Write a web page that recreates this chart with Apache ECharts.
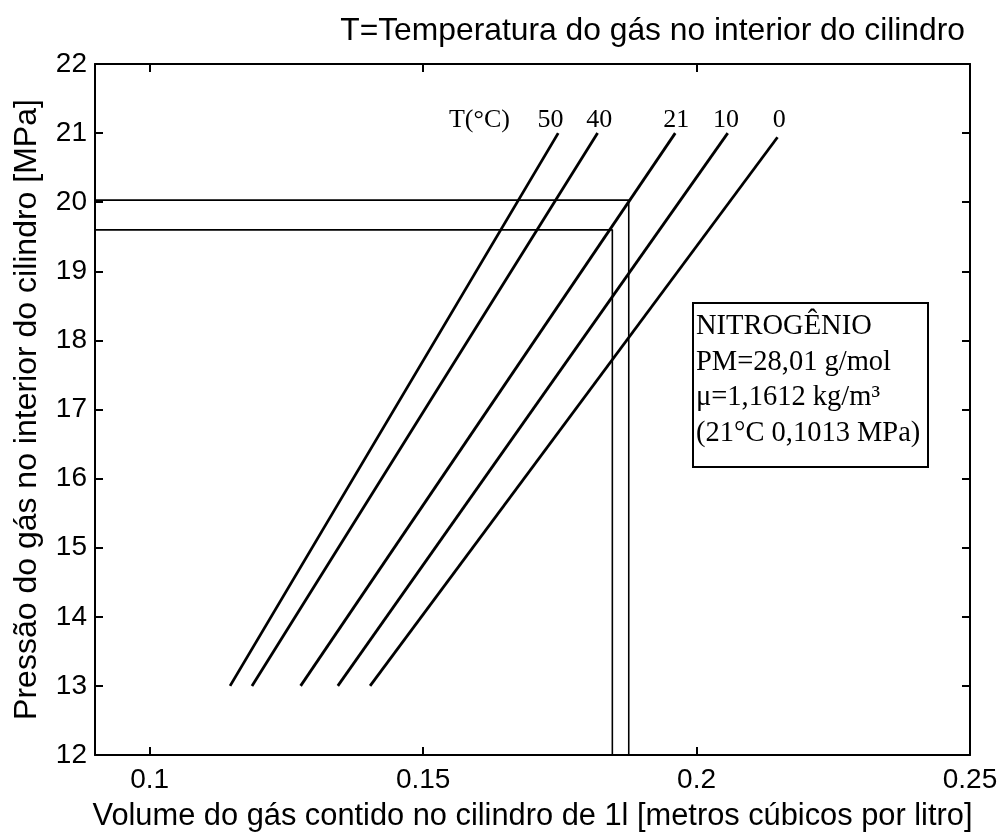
<!DOCTYPE html>
<html>
<head>
<meta charset="utf-8">
<script src="https://cdn.jsdelivr.net/npm/echarts@6/dist/echarts.min.js"></script>
<style>html,body{margin:0;padding:0;background:#fff}#c{width:1004px;height:837px}</style>
</head>
<body>
<div id="c"></div>
<script>
// Temperatures (°C) and isotherm endpoints [volume, pressure]
const temps = ['50', '40', '21', '10', '0'];
const lineStart = [[0.1147, 13], [0.1187, 13], [0.1276, 13], [0.1344, 13], [0.1403, 13]];
const lineEnd = [[0.1747, 21], [0.1819, 21], [0.1961, 21], [0.2057, 21], [0.2148, 20.94]];
// Reference reading lines [pressure, volume]
const refHigh = [20.03, 0.1876];
const refLow = [19.60, 0.1846];
const xTicks = [0.1, 0.15, 0.2, 0.25];
const boxLines = ['NITROGÊNIO', 'PM=28,01 g/mol', 'μ=1,1612 kg/m³', '(21°C 0,1013 MPa)'];

const chart = echarts.init(document.getElementById('c'));
const sans = 'Liberation Sans';
const serif = 'Liberation Serif';

const series = temps.map((t, i) => ({
  type: 'line', name: t, data: [lineStart[i], lineEnd[i]],
  symbol: 'none', lineStyle: { color: '#000', width: 2.8 }, silent: true, z: 3
}));
[refHigh, refLow].forEach(r => {
  series.push({
    type: 'line', data: [[0.09, r[0]], [r[1], r[0]], [r[1], 12]],
    symbol: 'none', lineStyle: { color: '#000', width: 1.6 }, silent: true, z: 2
  });
});

const axisLine = { show: true, onZero: false, lineStyle: { color: '#000', width: 2 } };
const tick = { inside: true, length: 8, lineStyle: { color: '#000', width: 2 } };

chart.setOption({
  animation: false,
  backgroundColor: '#fff',
  grid: { left: 95, right: 34, top: 64, bottom: 82, containLabel: false, outerBoundsMode: 'none' },
  xAxis: [
    {
      type: 'value', min: 0.09, max: 0.25, position: 'bottom',
      name: 'Volume do gás contido no cilindro de 1l [metros cúbicos por litro]',
      nameLocation: 'middle', nameGap: 46,
      nameTextStyle: { fontFamily: sans, fontSize: 30.8, color: '#000' },
      axisLine: axisLine, splitLine: { show: false },
      axisTick: Object.assign({ customValues: xTicks }, tick),
      axisLabel: { customValues: xTicks, margin: 11, fontFamily: sans, fontSize: 28, color: '#000',
        formatter: v => String(v) }
    },
    {
      type: 'value', min: 0.09, max: 0.25, position: 'top',
      axisLine: axisLine, splitLine: { show: false },
      axisTick: Object.assign({ customValues: xTicks }, tick),
      axisLabel: { show: false }
    }
  ],
  yAxis: [
    {
      type: 'value', min: 12, max: 22, interval: 1, position: 'left',
      name: 'Pressão do gás no interior do cilindro [MPa]',
      nameLocation: 'middle', nameGap: 52,
      nameTextStyle: { fontFamily: sans, fontSize: 32, color: '#000' },
      axisLine: axisLine, splitLine: { show: false }, axisTick: tick,
      axisLabel: { margin: 8, fontFamily: sans, fontSize: 28, color: '#000' }
    },
    {
      type: 'value', min: 12, max: 22, interval: 1, position: 'right',
      axisLine: axisLine, splitLine: { show: false }, axisTick: tick,
      axisLabel: { show: false }
    }
  ],
  series: series
});

// annotations
const g = [];
g.push({ type: 'text', right: 39, top: 15,
  style: { text: 'T=Temperatura do gás no interior do cilindro', fontFamily: sans, fontSize: 31.8, fill: '#000' } });
const tLabelX = [0.1733, 0.1822, 0.1963, 0.2054, 0.2151];
temps.forEach((t, i) => {
  const p = chart.convertToPixel({ xAxisIndex: 0, yAxisIndex: 0 }, [tLabelX[i], 21]);
  g.push({ type: 'text', x: p[0], y: p[1] - 13,
    style: { text: t, fontFamily: serif, fontSize: 26, fill: '#000', align: 'center', verticalAlign: 'middle' } });
});
const pT = chart.convertToPixel({ xAxisIndex: 0, yAxisIndex: 0 }, [0.1603, 21]);
g.push({ type: 'text', x: pT[0], y: pT[1] - 13,
  style: { text: 'T(°C)', fontFamily: serif, fontSize: 26, fill: '#000', align: 'center', verticalAlign: 'middle' } });

g.push({ type: 'rect', shape: { x: 693, y: 303, width: 235, height: 164 },
  style: { fill: '#fff', stroke: '#000', lineWidth: 2 }, z: 10 });
boxLines.forEach((s, i) => {
  g.push({ type: 'text', x: 696, y: 327 + i * 35.5, z: 11,
    style: { text: s, fontFamily: serif, fontSize: 28.5, fill: '#000', verticalAlign: 'middle' } });
});
chart.setOption({ graphic: g });
</script>
</body>
</html>
